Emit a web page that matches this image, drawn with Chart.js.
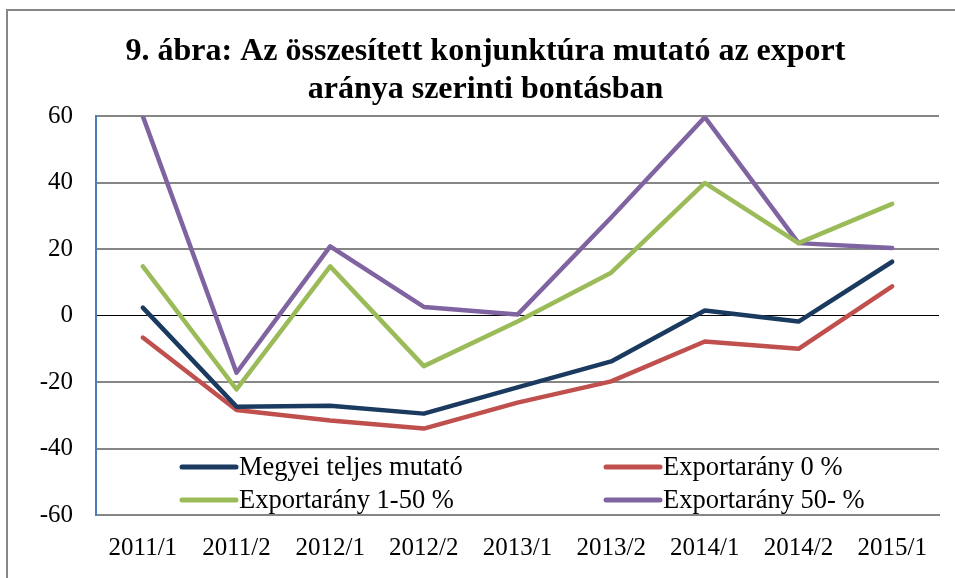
<!DOCTYPE html>
<html>
<head>
<meta charset="utf-8">
<script src="https://cdn.jsdelivr.net/npm/chart.js@4/dist/chart.umd.min.js"></script>
<style>
    html, body { margin: 0; padding: 0; background: #fff; overflow: hidden; }
    #wrap { position: relative; width: 955px; height: 578px; }
    #frame { position: absolute; left: 6px; top: 9px; width: 970px; height: 600px; border: 2px solid #878787; }
    #chart { position: absolute; left: 0; top: 0; }
</style>
</head>
<body>
<div id="wrap">
    <div id="frame"></div>
    <canvas id="chart" width="955" height="578"></canvas>
</div>
<script>
var titleLines = ['9. ábra: Az összesített konjunktúra mutató az export', 'aránya szerinti bontásban'];
var periods = ['2011/1', '2011/2', '2012/1', '2012/2', '2013/1', '2013/2', '2014/1', '2014/2', '2015/1'];
var seriesNames = ['Megyei teljes mutató', 'Exportarány 0 %', 'Exportarány 1-50 %', 'Exportarány 50- %'];
var megyei = [2.4, -27.4, -27.1, -29.5, -21.6, -13.8, 1.5, -1.8, 16.2];
var export0 = [-6.6, -28.4, -31.6, -34.0, -26.2, -19.8, -7.8, -10.0, 8.8];
var export1to50 = [14.8, -22.2, 14.8, -15.2, -1.8, 12.9, 39.9, 21.8, 33.6];
var export50 = [60, -17.2, 20.8, 2.6, 0.3, 29.5, 59.7, 21.8, 20.3];
var yTicks = [-60, -40, -20, 0, 20, 40, 60];

var colors = ['#1B3A5F', '#C0504D', '#9BBB59', '#8064A2'];
var serif = "'Liberation Serif', 'Times New Roman', serif";

function makeSet(i, values) {
    return {
        label: seriesNames[i],
        data: values,
        borderColor: colors[i],
        backgroundColor: colors[i],
        borderWidth: 4.5,
        borderCapStyle: 'round',
        borderJoinStyle: 'round',
        pointRadius: 0,
        tension: 0,
        fill: false
    };
}

// legend sits inside the plot, two columns at the bottom
var insideLegend = {
    id: 'insideLegend',
    afterDatasetsDraw: function (chart) {
        var ctx = chart.ctx;
        var area = chart.chartArea;
        var cols = [area.left + 86, area.left + 510];
        var rows = [area.bottom - 48, area.bottom - 15];
        ctx.save();
        ctx.font = '26.5px ' + serif;
        ctx.textBaseline = 'middle';
        ctx.fillStyle = '#000';
        chart.data.datasets.forEach(function (ds, i) {
            var x = cols[i % 2];
            var y = rows[Math.floor(i / 2)];
            ctx.strokeStyle = ds.borderColor;
            ctx.lineWidth = 5;
            ctx.lineCap = 'round';
            ctx.beginPath();
            ctx.moveTo(x, y);
            ctx.lineTo(x + 54, y);
            ctx.stroke();
            ctx.fillText(ds.label, x + 57, y + 1);
        });
        ctx.restore();
    }
};

var chart = new Chart(document.getElementById('chart'), {
    type: 'line',
    data: {
        labels: periods,
        datasets: [
            makeSet(0, megyei),
            makeSet(1, export0),
            makeSet(2, export1to50),
            makeSet(3, export50)
        ]
    },
    options: {
        responsive: false,
        animation: false,
        events: [],
        layout: { padding: { left: 32, right: 16, top: 0, bottom: 0 } },
        plugins: {
            legend: { display: false },
            tooltip: { enabled: false },
            title: {
                display: true,
                text: titleLines,
                color: '#000',
                font: { family: serif, size: 32, weight: 'bold', lineHeight: 1.19 },
                padding: { top: 33, bottom: 7 }
            }
        },
        scales: {
            x: {
                offset: true,
                grid: { display: false, drawTicks: false },
                border: { display: true, color: '#868686', width: 2 },
                ticks: {
                    color: '#000',
                    font: { family: serif, size: 25 },
                    padding: 18,
                    maxRotation: 0,
                    autoSkip: false
                },
                afterFit: function (scale) { scale.height = 63; }
            },
            y: {
                min: -60,
                max: 60,
                afterBuildTicks: function (scale) {
                    scale.ticks = yTicks.map(function (v) { return { value: v }; });
                },
                grid: {
                    drawTicks: false,
                    color: function (c) { return c.tick && c.tick.value === 0 ? '#000' : '#868686'; },
                    lineWidth: function (c) { return c.tick && c.tick.value === 0 ? 1 : 2; }
                },
                border: { display: true, color: '#4A7EBB', width: 2 },
                ticks: {
                    color: '#000',
                    font: { family: serif, size: 25 },
                    padding: 23
                },
                afterFit: function (scale) { scale.width = 64; }
            }
        }
    },
    plugins: [insideLegend]
});
</script>
</body>
</html>
